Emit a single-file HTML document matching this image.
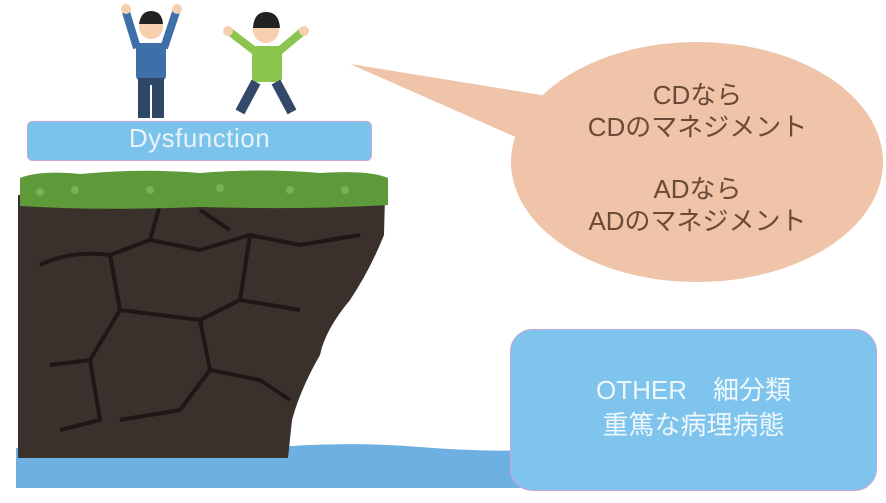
<!DOCTYPE html>
<html><head><meta charset="utf-8"><style>
body{margin:0;width:886px;height:503px;background:#fff;overflow:hidden;position:relative;font-family:"Liberation Sans","Noto Sans CJK JP",sans-serif}
.t{position:absolute;text-align:center}
</style></head><body>
<svg width="886" height="503" style="position:absolute;left:0;top:0">
<polygon points="350,64 560,98 545,150" fill="#efc4a8"/>
<ellipse cx="697" cy="162" rx="186" ry="120" fill="#efc4a8"/>
<path d="M16,448 Q120,452 250,450 Q330,440 420,447 Q480,452 530,450 L530,488 L16,488 Z" fill="#6fb0e2"/>
<path d="M18,195 L385,195 L384,235 Q370,270 350,300 Q325,330 320,355 Q300,390 292,420 L288,458 L18,458 Z" fill="#3a302c"/>
<g stroke="#1e1715" stroke-width="4" fill="none">
<path d="M40,265 Q70,250 110,255 L150,240 L200,250 L250,235 L300,245 L360,235"/>
<path d="M110,255 L120,310 L90,360 L50,365"/>
<path d="M120,310 L200,320 L240,300 L300,310"/>
<path d="M200,320 L210,370 L180,410 L120,420"/>
<path d="M210,370 L260,380 L290,400"/>
<path d="M240,300 L250,235"/>
<path d="M150,240 L160,205"/>
<path d="M90,360 L100,420 L60,430"/>
<path d="M200,210 L230,230"/>
</g>
<path d="M20,178 Q40,170 80,174 Q140,168 200,173 Q260,168 320,173 Q370,170 388,178 L388,205 Q300,210 200,207 Q100,211 20,206 Z" fill="#5e9a3a"/>
<g fill="#78b350"><circle cx="40" cy="192" r="4"/><circle cx="75" cy="190" r="4"/><circle cx="150" cy="190" r="4"/><circle cx="220" cy="188" r="4"/><circle cx="290" cy="190" r="4"/><circle cx="345" cy="190" r="4"/></g>
<g>
<rect x="136" y="43" width="30" height="37" fill="#3e6fa8" rx="4"/>
<path d="M137,48 L126,12 M164,48 L176,12" stroke="#3e6fa8" stroke-width="8"/>
<circle cx="126" cy="9" r="5" fill="#f6cfae"/><circle cx="177" cy="9" r="5" fill="#f6cfae"/>
<circle cx="151" cy="27" r="12" fill="#f6cfae"/>
<path d="M139,24 Q141,11 151,11 Q162,11 163,24 Z" fill="#222"/>
<rect x="138" y="78" width="26" height="40" fill="#2f4766"/>
<rect x="150" y="85" width="2" height="33" fill="#fff"/>
</g>
<g>
<rect x="252" y="46" width="30" height="36" fill="#8cc54e" rx="4"/>
<path d="M256,52 L230,32 M278,52 L302,32" stroke="#8cc54e" stroke-width="8"/>
<circle cx="228" cy="31" r="5" fill="#f6cfae"/><circle cx="304" cy="31" r="5" fill="#f6cfae"/>
<circle cx="266" cy="30" r="13" fill="#f6cfae"/>
<path d="M253,28 Q254,12 266,12 Q279,12 280,28 Z" fill="#222"/>
<path d="M256,82 L240,112 M276,82 L292,112" stroke="#34496a" stroke-width="10"/>
</g>
<rect x="27.5" y="121.5" width="344" height="39" rx="5" fill="#7cc3ec" stroke="#c9a6d6"/>
<rect x="510.5" y="329.5" width="366" height="161" rx="22" fill="#7fc4ec" stroke="#c9a6d6"/>
</svg>
<div class="t" style="left:27px;top:123px;width:345px;font-size:26px;color:#e8f4fb;letter-spacing:0.5px">Dysfunction</div>
<div class="t" style="left:520px;top:79px;width:355px;font-size:26px;line-height:32px;color:#6b4a38">CDなら<br>CDのマネジメント<br><div style="height:30px"></div>ADなら<br>ADのマネジメント</div>
<div class="t" style="left:510px;top:373px;width:367px;font-size:26px;line-height:35px;color:#eef7fc">OTHER　細分類<br>重篤な病理病態</div>
</body></html>
